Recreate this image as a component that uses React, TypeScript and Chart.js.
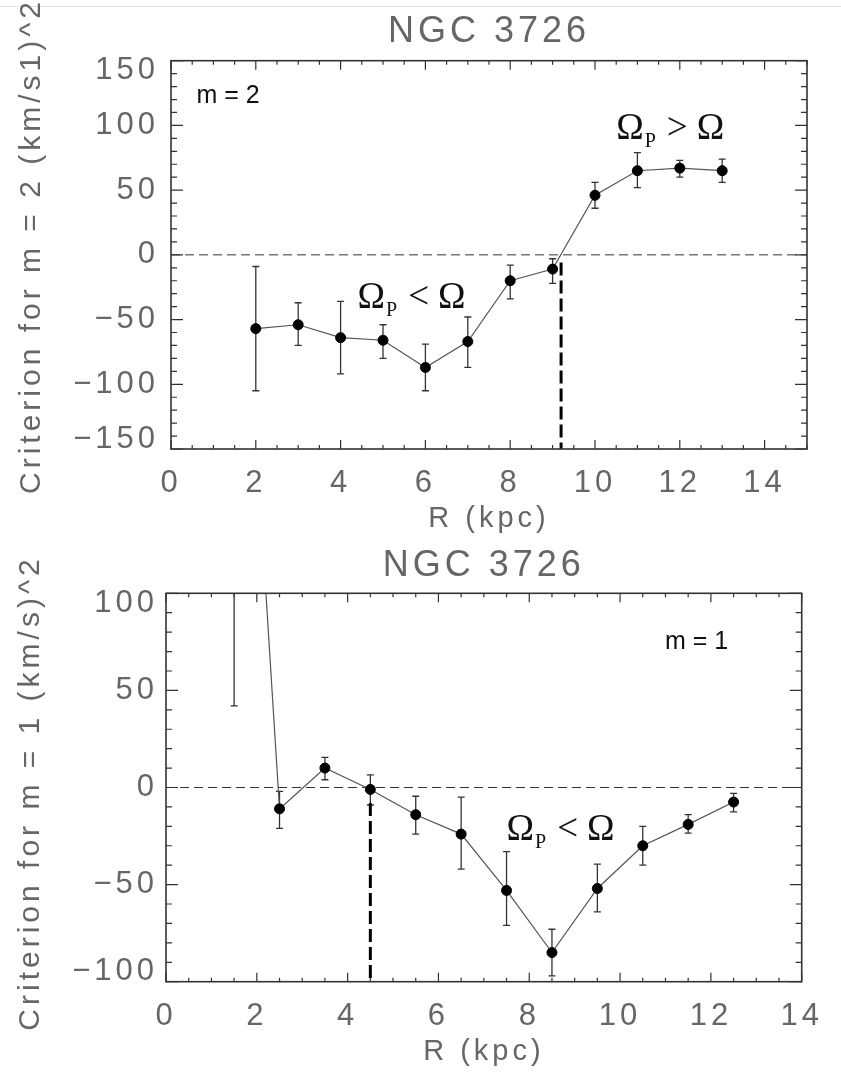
import { useEffect, useRef } from "react"
import { Chart, registerables, type Plugin } from "chart.js"

Chart.register(...registerables)

// ---- values ----

// upper panel: m = 2
const radii2 = [2, 3, 4, 5, 6, 7, 8, 9, 10, 11, 12, 13]
const crit2 = [-57, -54, -64, -66, -87, -67, -20, -11, 46, 65, 67, 65]
const crit2Low = [-105, -70, -92, -80, -105, -87, -34, -22, 36, 52, 60, 56]
const crit2High = [-9, -37, -36, -54, -69, -48, -8, -3, 56, 79, 73, 74]
const corot2R = 9.2
const corot2Span = [-6, -150]

// lower panel: m = 1
const radii1 = [1.5, 2.5, 3.5, 4.5, 5.5, 6.5, 7.5, 8.5, 9.5, 10.5, 11.5, 12.5]
const crit1 = [360, -11, 10, -1, -14, -24, -53, -85, -52, -30, -19, -7.5]
const crit1Low = [42, -21, 4, -9, -24, -42, -71, -97, -64, -40, -23.5, -12.5]
const crit1High = [680, -2, 15.5, 6.5, -4.5, -5, -33, -73, -39.5, -20, -14, -3]
const corot1R = 4.5
const corot1Span = [-8, -100]

// tick labels
const rTicks = [0, 2, 4, 6, 8, 10, 12, 14]
const critTicks2 = [-150, -100, -50, 0, 50, 100, 150]
const critTicks1 = [-100, -50, 0, 50, 100]

type Note = { text?: string; rel?: string; r: number; v: number }

const notes2: Note[] = [
  { text: "m = 2", r: 0.6, v: 124 },
  { rel: "<", r: 4.4, v: -32 },
  { rel: ">", r: 10.5, v: 98.5 },
]
const notes1: Note[] = [
  { text: "m = 1", r: 10.99, v: 76 },
  { rel: "<", r: 7.5, v: -21 },
]

const SANS = '"Liberation Sans", Arial, sans-serif'
const SERIF = '"Liberation Serif", "Times New Roman", serif'
const TEXT = "#666"
const INK = "#333"

interface Geo {
  left: number
  right: number
  titleTop: number
  titleBottom: number
  xAxisH: number
  xTickPad: number
  xTitlePad: number
  yTickPad: number
  yTitleX: number
  yTitleMid: number
}

interface PanelProps {
  height: number
  r: number[]
  crit: number[]
  low: number[]
  high: number[]
  corotR: number
  corotSpan: number[]
  xMax: number
  yMin: number
  yMax: number
  yTicks: number[]
  yTitle: string
  notes: Note[]
  geo: Geo
}

const fmt = (v: number) => (v < 0 ? "\u2212" + Math.abs(v) : String(v))

function Panel(p: PanelProps) {
  const canvasRef = useRef<HTMLCanvasElement>(null)

  useEffect(() => {
    const canvas = canvasRef.current
    if (!canvas) return
    const g = p.geo

    // IDL's stroke font is widely spaced
    const spacing: Plugin<"scatter"> = {
      id: "spacing",
      beforeUpdate(chart) {
        ;(chart.ctx as any).letterSpacing = "4px"
      },
      beforeDraw(chart) {
        ;(chart.ctx as any).letterSpacing = "4px"
      },
    }

    const errorBars: Plugin<"scatter"> = {
      id: "errorBars",
      beforeDatasetsDraw(chart) {
        const { ctx, chartArea: a } = chart
        const x = chart.scales.x
        const y = chart.scales.y
        ctx.save()
        ctx.beginPath()
        ctx.rect(a.left, a.top, a.width, a.height)
        ctx.clip()
        ctx.strokeStyle = INK
        ctx.lineWidth = 1.3
        p.r.forEach((rv, i) => {
          const px = x.getPixelForValue(rv)
          const y0 = y.getPixelForValue(p.low[i])
          const y1 = y.getPixelForValue(p.high[i])
          ctx.beginPath()
          ctx.moveTo(px, y0)
          ctx.lineTo(px, y1)
          ctx.moveTo(px - 3.5, y0)
          ctx.lineTo(px + 3.5, y0)
          ctx.moveTo(px - 3.5, y1)
          ctx.lineTo(px + 3.5, y1)
          ctx.stroke()
        })
        ctx.restore()
      },
    }

    // box with inward ticks on all four sides
    const frame: Plugin<"scatter"> = {
      id: "frame",
      afterDatasetsDraw(chart) {
        const { ctx, chartArea: a } = chart
        const x = chart.scales.x
        const y = chart.scales.y
        ctx.save()
        ctx.strokeStyle = INK
        ctx.lineWidth = 1.2
        ctx.beginPath()
        for (let v = 0; v <= p.xMax + 1e-9; v += 0.5) {
          const px = x.getPixelForValue(v)
          const len = v % 2 === 0 ? 9 : 4
          ctx.moveTo(px, a.bottom)
          ctx.lineTo(px, a.bottom - len)
          ctx.moveTo(px, a.top)
          ctx.lineTo(px, a.top + len)
        }
        for (let v = p.yMin; v <= p.yMax + 1e-9; v += 10) {
          const py = y.getPixelForValue(v)
          const len = v % 50 === 0 ? 12 : 6
          ctx.moveTo(a.left, py)
          ctx.lineTo(a.left + len, py)
          ctx.moveTo(a.right, py)
          ctx.lineTo(a.right - len, py)
        }
        ctx.stroke()
        ctx.lineWidth = 1.6
        ctx.strokeRect(a.left, a.top, a.width, a.height)
        ctx.restore()
      },
    }

    const labels: Plugin<"scatter"> = {
      id: "labels",
      afterDraw(chart) {
        const { ctx } = chart
        const x = chart.scales.x
        const y = chart.scales.y
        ctx.save()
        // rotated y-axis title, allowed to run past the top like the original
        ctx.translate(g.yTitleX, g.yTitleMid)
        ctx.rotate(-Math.PI / 2)
        ;(ctx as any).letterSpacing = "4px"
        ctx.font = `30px ${SANS}`
        ctx.fillStyle = TEXT
        ctx.textAlign = "center"
        ctx.textBaseline = "middle"
        ctx.fillText(p.yTitle, 0, 0)
        ctx.restore()

        ctx.save()
        ;(ctx as any).letterSpacing = "0px"
        ctx.fillStyle = "#111"
        ctx.textAlign = "left"
        ctx.textBaseline = "alphabetic"
        p.notes.forEach((n) => {
          const px = x.getPixelForValue(n.r)
          const py = y.getPixelForValue(n.v)
          if (n.text) {
            ctx.font = `25px ${SANS}`
            ctx.fillText(n.text, px, py + 9)
            return
          }
          const base = py + 12
          ctx.font = `37px ${SERIF}`
          ctx.fillText("\u03A9", px, base)
          let cx = px + ctx.measureText("\u03A9").width + 1
          ctx.font = `20px ${SERIF}`
          ctx.fillText("P", cx, base + 8)
          cx += ctx.measureText("P").width + 11
          ctx.font = `37px ${SERIF}`
          ctx.fillText(n.rel!, cx, base)
          cx += ctx.measureText(n.rel!).width + 9
          ctx.fillText("\u03A9", cx, base)
        })
        ctx.restore()
      },
    }

    const chart = new Chart(canvas, {
      type: "scatter",
      data: {
        datasets: [
          {
            data: p.r.map((rv, i) => ({ x: rv, y: p.crit[i] })),
            showLine: true,
            borderColor: "#555",
            borderWidth: 1.2,
            pointRadius: 5,
            pointBackgroundColor: "#000",
            pointBorderColor: "#000",
            pointBorderWidth: 1,
          },
          {
            data: p.corotSpan.map((v) => ({ x: p.corotR, y: v })),
            showLine: true,
            borderColor: "#000",
            borderWidth: 3,
            borderDash: [13, 5],
            pointRadius: 0,
          },
          {
            data: [
              { x: 0, y: 0 },
              { x: p.xMax, y: 0 },
            ],
            showLine: true,
            borderColor: INK,
            borderWidth: 1,
            borderDash: [9, 5],
            pointRadius: 0,
          },
        ],
      },
      options: {
        animation: false,
        responsive: false,
        events: [],
        layout: { padding: { left: 0, right: g.right, top: 0, bottom: 0 } },
        plugins: {
          legend: { display: false },
          tooltip: { enabled: false },
          title: {
            display: true,
            text: "NGC 3726",
            fullSize: false,
            color: TEXT,
            font: { family: SANS, size: 36, weight: "normal", lineHeight: 1.2 },
            padding: { top: g.titleTop, bottom: g.titleBottom },
          },
        },
        scales: {
          x: {
            type: "linear",
            min: 0,
            max: p.xMax,
            afterBuildTicks: (s) => {
              s.ticks = rTicks.map((v) => ({ value: v }))
            },
            afterFit: (s) => {
              s.height = g.xAxisH
            },
            grid: { display: false },
            border: { display: false },
            ticks: {
              color: TEXT,
              font: { family: SANS, size: 31 },
              padding: g.xTickPad,
              maxRotation: 0,
              autoSkip: false,
            },
            title: {
              display: true,
              text: "R (kpc)",
              color: TEXT,
              font: { family: SANS, size: 29, lineHeight: 1.2 },
              padding: { top: 0, bottom: g.xTitlePad },
            },
          },
          y: {
            type: "linear",
            min: p.yMin,
            max: p.yMax,
            afterBuildTicks: (s) => {
              s.ticks = p.yTicks.map((v) => ({ value: v }))
            },
            afterFit: (s) => {
              s.width = g.left
            },
            grid: { display: false },
            border: { display: false },
            ticks: {
              color: TEXT,
              font: { family: SANS, size: 31, lineHeight: "20px" },
              padding: g.yTickPad,
              // end labels sit just inside the frame
              callback: (v) => {
                const n = Number(v)
                if (n === p.yMax) return ["", fmt(n)]
                if (n === p.yMin) return [fmt(n), ""]
                return fmt(n)
              },
            },
          },
        },
      },
      plugins: [spacing, errorBars, frame, labels],
    })

    return () => chart.destroy()
  }, [p])

  return <canvas ref={canvasRef} width={841} height={p.height} style={{ display: "block" }} />
}

const geoTop: Geo = {
  left: 171,
  right: 34,
  titleTop: 10,
  titleBottom: 7.5,
  xAxisH: 91,
  xTickPad: 8,
  xTitlePad: 3.5,
  yTickPad: 4,
  yTitleX: 32,
  yTitleMid: 246,
}

const geoBottom: Geo = {
  left: 166,
  right: 39.3,
  titleTop: 4,
  titleBottom: 6.1,
  xAxisH: 99.3,
  xTickPad: 7.7,
  xTitlePad: 11.6,
  yTickPad: 0,
  yTitleX: 31,
  yTitleMid: 253,
}

const topProps: PanelProps = {
  height: 540,
  r: radii2,
  crit: crit2,
  low: crit2Low,
  high: crit2High,
  corotR: corot2R,
  corotSpan: corot2Span,
  xMax: 15,
  yMin: -150,
  yMax: 150,
  yTicks: critTicks2,
  yTitle: "Criterion for m = 2 (km/s1)^2",
  notes: notes2,
  geo: geoTop,
}

const bottomProps: PanelProps = {
  height: 541,
  r: radii1,
  crit: crit1,
  low: crit1Low,
  high: crit1High,
  corotR: corot1R,
  corotSpan: corot1Span,
  xMax: 14,
  yMin: -100,
  yMax: 100,
  yTicks: critTicks1,
  yTitle: "Criterion for m = 1 (km/s)^2",
  notes: notes1,
  geo: geoBottom,
}

export default function App() {
  return (
    <div
      style={{
        position: "absolute",
        left: 0,
        top: 0,
        width: 841,
        height: 1081,
        background: "#fff",
        overflow: "hidden",
      }}
    >
      <div style={{ position: "absolute", left: 0, top: 6, width: 841, height: 1, background: "#e2e2e2" }} />
      <div style={{ position: "absolute", left: 0, top: 0 }}>
        <Panel {...topProps} />
      </div>
      <div style={{ position: "absolute", left: 0, top: 540 }}>
        <Panel {...bottomProps} />
      </div>
    </div>
  )
}
